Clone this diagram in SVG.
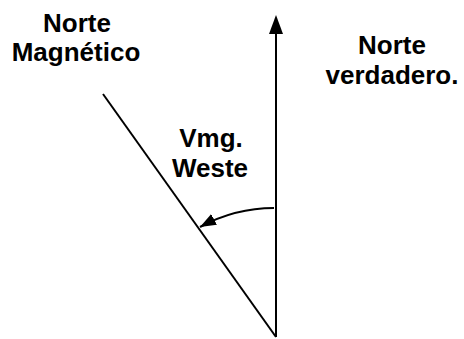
<svg xmlns="http://www.w3.org/2000/svg" width="464" height="339" viewBox="0 0 464 339">
<style>
text{font-family:"Liberation Sans",Arial,sans-serif;font-weight:bold;font-size:26px;fill:#000;text-anchor:middle}
.ln{stroke:#000;stroke-width:2;fill:none}
</style>
<defs>
<marker id="ah" markerWidth="16" markerHeight="12" refX="16" refY="6" orient="auto" markerUnits="userSpaceOnUse" viewBox="0 0 16 12">
<path d="M0,0 L16,6 L0,12 z" fill="#000"/>
</marker>
</defs>
<rect width="464" height="339" fill="#fff"/>
<g id="connectors">
<line class="ln" x1="276" y1="337" x2="276" y2="30"/>
<path d="M276,15 L269,34 L283,34 z" fill="#000"/>
<line class="ln" x1="103" y1="94" x2="276" y2="337"/>
<path class="ln" d="M274,208 Q235,208 200,227" marker-end="url(#ah)"/>
</g>
<g id="norte-magnetico"><text x="77" y="32">Norte</text><text x="76" y="61">Magnético</text></g>
<g id="norte-verdadero"><text x="392" y="54">Norte</text><text x="392" y="84">verdadero.</text></g>
<g id="vmg-weste"><text x="211" y="147">Vmg.</text><text x="210" y="177">Weste</text></g>
</svg>
